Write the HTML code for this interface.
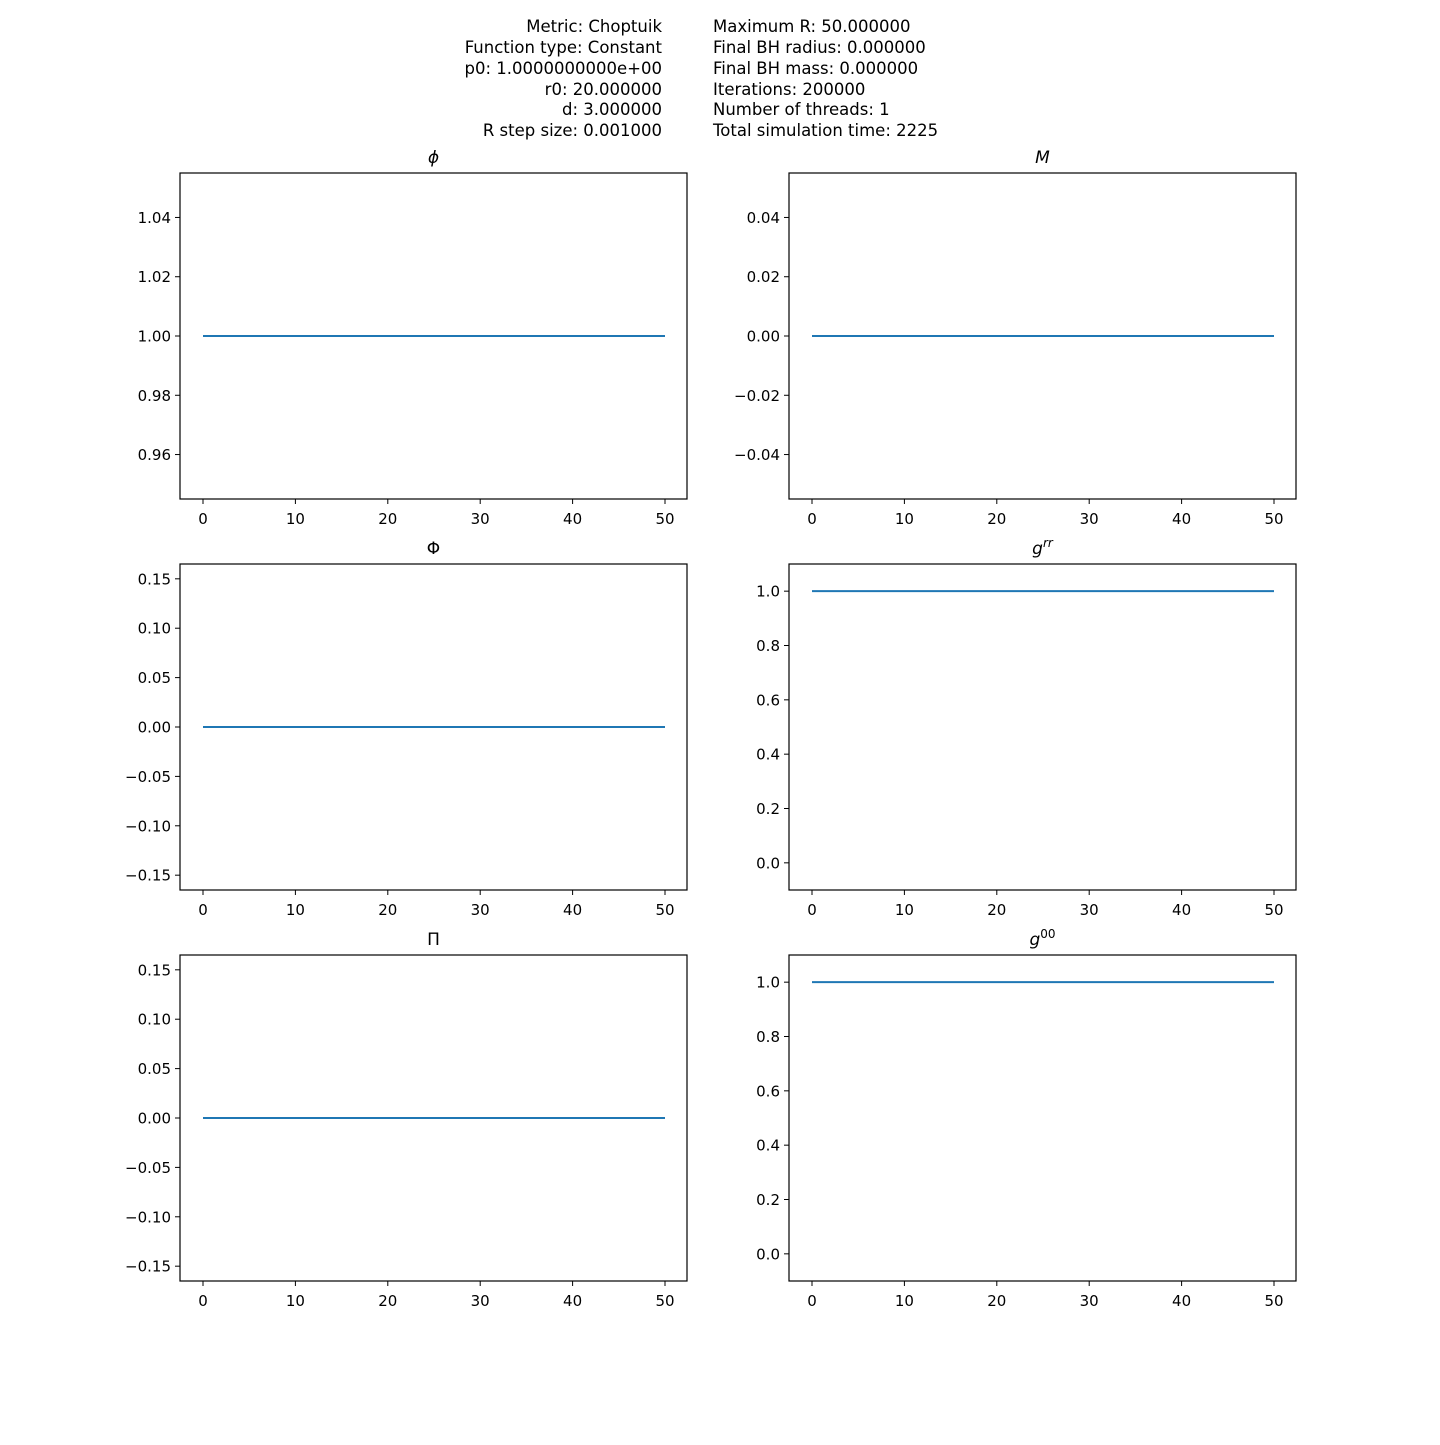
<!DOCTYPE html>
<html><head><meta charset="utf-8"><style>
body{margin:0;background:#fff;}
svg text{font-family:"DejaVu Sans","Liberation Sans",sans-serif;}
</style></head><body>
<svg id="fig" width="1440" height="1440" viewBox="0 0 1440 1440" xmlns="http://www.w3.org/2000/svg">
<rect width="1440" height="1440" fill="#fff"/>
<g font-size="16.5" text-anchor="end">
<text x="662" y="32">Metric: Choptuik</text>
<text x="662" y="53">Function type: Constant</text>
<text x="662" y="74">p0: 1.0000000000e+00</text>
<text x="662" y="95">r0: 20.000000</text>
<text x="662" y="115">d: 3.000000</text>
<text x="662" y="136">R step size: 0.001000</text>
</g>
<g font-size="16.5">
<text x="713" y="32">Maximum R: 50.000000</text>
<text x="713" y="53">Final BH radius: 0.000000</text>
<text x="713" y="74">Final BH mass: 0.000000</text>
<text x="713" y="95">Iterations: 200000</text>
<text x="713" y="115">Number of threads: 1</text>
<text x="713" y="136">Total simulation time: 2225</text>
</g>
</svg>
<script>
const xTicks=[0,10,20,30,40,50];
const xData=[0,50];
const phiValues=[1,1];
const mValues=[0,0];
const bigPhiValues=[0,0];
const grrValues=[1,1];
const piValues=[0,0];
const g00Values=[1,1];
const panels=[
 {name:'phi',title:'ϕ',x:180,y:173,ymin:0.945,ymax:1.055,ticks:[0.96,0.98,1.00,1.02,1.04],dec:2,vals:phiValues},
 {name:'m',title:'M',x:789,y:173,ymin:-0.055,ymax:0.055,ticks:[-0.04,-0.02,0,0.02,0.04],dec:2,vals:mValues},
 {name:'big-phi',title:'Φ',x:180,y:564,ymin:-0.165,ymax:0.165,ticks:[-0.15,-0.1,-0.05,0,0.05,0.1,0.15],dec:2,vals:bigPhiValues},
 {name:'grr',title:'g',sup:'rr',x:789,y:564,ymin:-0.1,ymax:1.1,ticks:[0,0.2,0.4,0.6,0.8,1.0],dec:1,vals:grrValues},
 {name:'pi',title:'Π',x:180,y:955,ymin:-0.165,ymax:0.165,ticks:[-0.15,-0.1,-0.05,0,0.05,0.1,0.15],dec:2,vals:piValues},
 {name:'g00',title:'g',sup:'00',x:789,y:955,ymin:-0.1,ymax:1.1,ticks:[0,0.2,0.4,0.6,0.8,1.0],dec:1,vals:g00Values}
];
const NS='http://www.w3.org/2000/svg';
const svg=document.getElementById('fig');
function mk(tag,at,parent){const e=document.createElementNS(NS,tag);for(const k in at)e.setAttribute(k,at[k]);parent.appendChild(e);return e;}
const W=507,H=326;
panels.forEach(p=>{
 const g=mk('g',{},svg);
 
 
 const sx=v=>p.x+23+v*9.24;
 const sy=v=>p.y+H-(v-p.ymin)/(p.ymax-p.ymin)*H;
 let pts=xData.map((xv,i)=>sx(xv)+','+sy(p.vals[i])).join(' ');
 const line=mk('polyline',{points:pts,fill:'none',stroke:'#1f77b4','stroke-width':2},g);
 
 
 const fr=mk('rect',{x:p.x,y:p.y,width:W,height:H,fill:'none',stroke:'#000','stroke-width':1.2},g);
 
 
 xTicks.forEach(t=>{
  const X=sx(t);
  mk('line',{x1:X,x2:X,y1:p.y+H,y2:p.y+H+5,stroke:'#000','stroke-width':1},g);
  const tx=mk('text',{x:X,y:p.y+H+25,'font-size':15,'text-anchor':'middle'},g);
  tx.textContent=t;
  
  
 });
 p.ticks.forEach(t=>{
  const Y=sy(t);
  mk('line',{x1:p.x-5,x2:p.x,y1:Y,y2:Y,stroke:'#000','stroke-width':1},g);
  const ty=mk('text',{x:p.x-9,y:Y+5.5,'font-size':15,'text-anchor':'end'},g);
  let s=Math.abs(t).toFixed(p.dec);
  ty.textContent=(t<0?'−':'')+s;
  
  
 });
 const tt=mk('text',{x:p.x+W/2,y:p.y-10,'font-size':17,'text-anchor':'middle','font-style':'italic'},g);
 
 
 tt.textContent=p.title;
 if(p.name==='big-phi'||p.name==='pi')tt.setAttribute('font-style','normal');
 if(p.sup){const ts=mk('tspan',{'font-size':12,dy:-7},tt);ts.textContent=p.sup;if(p.sup==='00')ts.setAttribute('font-style','normal');}
});
</script>
</body></html>
